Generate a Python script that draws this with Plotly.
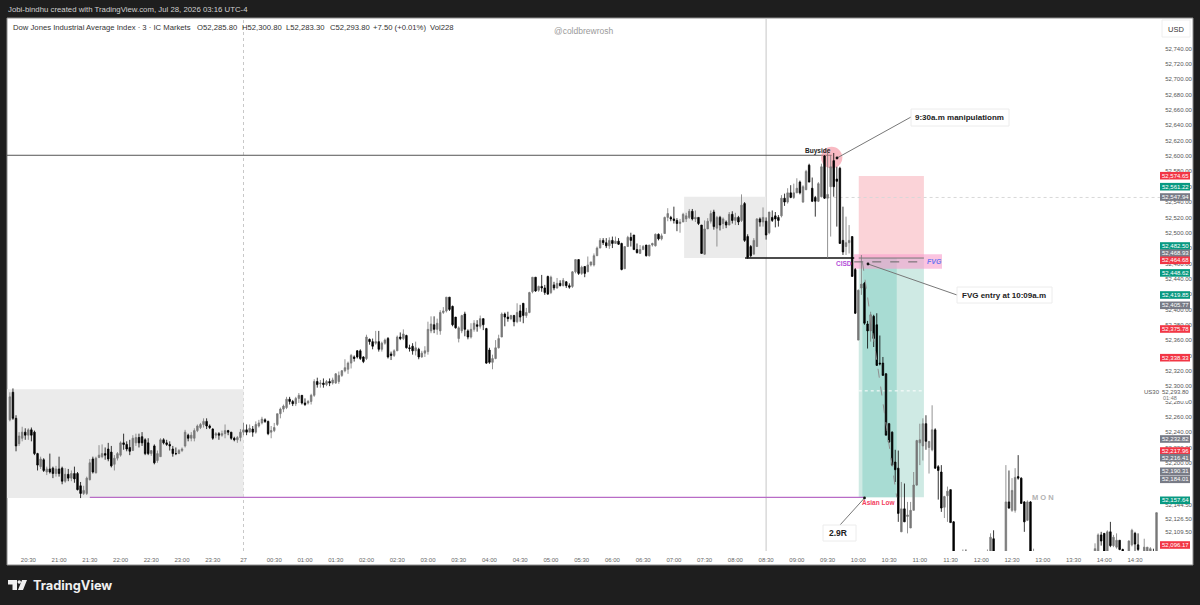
import plotly.graph_objects as go
import pandas as pd

# prices are stored as points above this level
price_base = 52000

opens = [256,292,258,225,232,240,236,243,240,212,
195,204,188,192,193,186,192,193,176,185,
180,186,186,170,160,160,178,205,187,207,
208,212,218,214,198,206,210,226,224,220,
216,226,233,234,230,226,212,222,203,208,
230,226,224,218,212,212,216,222,236,232,
232,242,246,250,254,248,244,236,238,236,
238,242,240,232,230,233,240,243,240,244,
240,248,252,256,254,240,242,250,264,270,
272,283,280,277,284,288,278,278,280,288,
306,303,304,302,306,304,304,306,314,320,
322,330,338,346,346,338,336,361,358,356,
358,348,356,362,342,340,346,364,362,366,
350,352,346,348,338,343,345,372,380,374,
372,396,398,416,404,390,362,372,394,372,
364,374,380,378,388,375,347,331,336,350,
364,394,390,388,392,384,398,408,392,396,
423,442,425,430,428,443,422,432,428,434,
431,436,431,430,449,465,447,456,449,458,
458,470,480,490,487,483,490,486,489,486,
453,482,494,497,478,473,478,484,470,484,
483,498,492,499,520,520,518,516,512,514,
518,520,528,518,520,510,472,505,515,527,
506,520,512,514,510,524,516,520,516,538,
495,482,472,482,518,514,515,500,520,522,
520,522,545,540,552,546,552,566,540,556,
588,558,546,541,547,600,545,560,594,570,
584,490,482,487,495,452,360,428,434,381,
372,391,380,330,330,316,251,240,201,193,
110,140,130,115,138,171,226,222,251,220,
217,243,195,188,142,157,165,123,70,72,
68,74,70,62,66,60,64,70,74,70,
101,70,62,68,70,149,138,138,182,180,
149,125,149,80,84,70,64,60,66,58,
52,60,56,54,62,58,64,70,66,72,
68,74,78,80,80,106,108,80,110,92,
90,99,87,80,76,93,108,93,82,84,
84,84,84,80]

highs = [292,297,262,240,247,245,245,246,242,213,
208,206,195,212,195,196,208,195,193,192,
190,195,188,175,170,182,205,208,208,223,
224,220,226,222,210,214,228,238,228,230,
236,238,238,240,232,232,216,224,216,232,
232,230,228,222,220,218,220,243,238,240,
245,250,252,258,258,250,245,240,240,242,
250,243,240,234,235,244,252,250,250,248,
254,256,260,258,255,248,252,264,272,276,
286,286,282,286,291,288,284,282,290,309,
311,308,310,308,310,311,317,319,321,335,
332,342,340,347,348,339,367,362,362,372,
372,358,362,364,345,348,366,370,374,367,
354,356,358,350,346,352,384,391,391,388,
399,403,416,416,405,390,378,393,397,374,
382,386,386,392,388,376,350,341,360,367,
396,396,397,393,393,408,406,408,402,423,
442,442,431,445,432,444,444,436,441,438,
441,437,434,450,465,465,457,456,469,462,
473,482,493,493,493,494,495,495,493,487,
482,496,500,497,486,484,484,484,484,487,
499,499,499,521,532,522,534,519,518,526,
526,531,531,529,520,510,516,519,529,530,
522,522,520,516,527,528,526,522,550,540,
498,484,493,519,520,533,520,527,529,527,
523,549,551,558,562,564,571,568,562,582,
590,572,548,566,590,601,604,601,604,586,
586,534,521,510,495,454,426,471,436,385,
397,393,395,366,338,317,252,241,217,216,
175,173,149,149,188,230,251,258,262,228,
275,245,197,197,157,169,165,124,78,80,
87,87,78,72,74,70,76,80,87,108,
112,78,74,80,197,190,180,193,210,181,
150,151,150,88,84,78,74,70,72,66,
64,68,64,66,70,68,74,78,76,80,
78,82,83,95,108,110,108,112,123,106,
108,99,88,84,99,114,110,108,84,101,
90,90,88,135]

lows = [254,256,215,222,228,230,230,228,210,190,
192,188,184,186,180,182,182,172,174,176,
176,174,164,154,158,158,177,186,186,206,
206,204,202,194,190,203,208,217,215,210,
216,222,220,222,210,210,209,198,200,208,
224,222,216,208,210,212,214,220,228,228,
228,240,244,246,244,244,230,232,230,234,
232,236,230,228,226,228,236,236,240,234,
238,246,250,252,236,232,240,248,258,266,
270,276,274,274,278,276,274,276,276,286,
298,298,298,300,300,302,303,303,312,318,
316,323,332,336,334,330,334,354,348,354,
345,345,354,336,334,338,346,360,360,349,
345,341,340,335,337,338,341,369,369,367,
367,394,396,398,378,375,357,369,365,361,
362,371,371,375,373,329,329,322,335,349,
364,378,384,386,378,382,384,382,389,395,
421,423,423,423,419,419,420,425,427,430,
430,428,427,428,447,445,445,442,449,456,
456,470,480,484,480,479,480,486,484,451,
453,482,482,478,473,473,478,469,469,482,
482,490,490,499,515,515,512,502,500,514,
514,518,516,514,510,473,471,505,512,504,
482,503,505,506,510,512,510,510,514,488,
466,468,472,482,508,508,491,498,514,507,
508,520,535,538,545,544,552,550,539,556,
566,540,521,540,546,544,467,495,547,508,
486,471,471,473,443,394,360,419,380,349,
358,351,327,327,314,236,226,196,175,123,
110,123,108,115,138,170,197,203,217,186,
215,192,152,136,128,123,122,80,60,62,
60,64,58,54,58,52,60,64,70,70,
68,58,56,62,68,140,136,135,178,147,
110,124,80,75,66,60,56,50,54,48,
46,52,48,50,54,50,58,62,60,64,
62,70,72,78,78,92,80,78,90,90,
88,86,78,72,74,91,84,85,76,80,
78,80,78,78]

closes = [286,258,222,235,240,236,243,236,212,197,
205,190,192,188,186,192,186,176,185,180,
186,179,165,160,164,180,200,188,206,210,
212,210,205,196,206,212,226,224,218,215,
232,233,226,226,212,212,216,200,212,230,
226,224,222,212,212,216,218,240,232,236,
242,248,250,254,248,246,232,238,236,238,
242,240,232,230,233,240,243,240,245,240,
250,252,257,254,238,242,246,264,270,274,
283,280,277,284,288,278,276,280,288,306,
302,304,302,306,304,308,316,314,320,324,
330,340,336,338,336,332,364,358,352,358,
348,356,360,338,340,346,364,362,368,350,
349,346,350,338,343,346,374,381,374,382,
396,398,416,400,380,376,376,392,374,364,
374,382,378,388,380,330,331,336,350,362,
394,390,388,392,384,396,390,392,396,422,
442,424,430,428,422,420,442,428,434,431,
438,431,429,449,465,447,455,447,458,462,
470,480,490,487,483,490,486,489,485,452,
482,494,490,478,474,478,482,470,484,486,
498,492,496,520,525,518,516,512,514,524,
522,528,518,520,512,473,505,515,525,508,
520,510,518,510,524,516,520,514,536,490,
468,470,490,518,514,520,497,527,516,518,
516,545,540,552,546,552,558,552,560,580,
566,541,541,564,586,545,550,586,560,567,
486,475,487,490,443,395,425,433,382,372,
393,362,327,329,314,236,227,197,191,134,
140,123,132,138,171,229,230,251,228,228,
243,193,190,141,156,163,122,80,72,68,
74,70,62,66,60,64,70,74,84,103,
70,62,68,70,149,141,164,181,180,147,
123,149,84,84,70,64,60,66,58,52,
60,56,54,62,58,64,70,66,72,68,
74,78,80,88,106,98,84,110,92,103,
99,87,80,76,98,112,94,87,78,90,
90,88,84,135]

time_labels = ["20:30","21:00","21:30","22:00","22:30","23:00","23:30","27",
"00:30","01:00","01:30","02:00","02:30","03:00","03:30","04:00","04:30","05:00",
"05:30","06:00","06:30","07:00","07:30","08:00","08:30","09:00","09:30","10:00",
"10:30","11:00","11:30","12:00","12:30","13:00","13:30","14:00","14:30"]

price_ticks = [52740,52720,52700,52680,52660,52640,52620,52600,52580,52560,52540,52520,
52500,52480,52460,52440,52420,52400,52380,52360,52340,52320,52300,52280,52260,52240,
52220,52200,52144.5,52126.5,52109.5]

# right hand labels, pushed apart like the platform does
tag_values = [52574.65,52561.22,52547.94,52482.50,52468.93,52464.68,52448.62,52419.85,52405.77,
52375.78,52338.33,52293.80,52232.82,52217.96,52216.41,52190.31,52184.01,52157.64,52096.17]
tag_colors = ["#f23645","#089981","#787b86","#089981","#787b86","#f23645","#089981","#089981","#787b86",
"#f23645","#f23645","#ffffff","#787b86","#f23645","#787b86","#787b86","#787b86","#089981","#f23645"]
tag_rows = [175.7,186.7,197,246,253.3,260.3,272.9,295,305.3,329,357.7,392,439,451,457.7,471.3,479.3,500.3,545]

legend_parts = ["Dow Jones Industrial Average Index · 3 · IC Markets","O52,285.80","H52,300.80",
"L52,283.30","C52,293.80","+7.50 (+0.01%)","Vol228"]
legend_cols = [12,196,241,285,329,372,429]

W, H = 1200, 605
L, R, T, B = 7, 1160, 18, 551

def px(x):
    return (x - L) / (R - L)

def py(y):
    return (B - y) / (B - T)

bar_times = pd.date_range("2026-07-26 20:12", periods=len(opens), freq="3min")
tick_times = pd.date_range("2026-07-26 20:30", periods=len(time_labels), freq="30min")

def up(values):
    return [price_base + v for v in values]

fig = go.Figure()
fig.add_trace(go.Candlestick(
    x=bar_times, open=up(opens), high=up(highs), low=up(lows), close=up(closes),
    increasing=dict(line=dict(color="#787878", width=0.8), fillcolor="#787878"),
    decreasing=dict(line=dict(color="#000000", width=0.8), fillcolor="#000000"),
    whiskerwidth=0, showlegend=False, hoverinfo="skip"))

def box(x0, x1, y0, y1, color, layer="below"):
    fig.add_shape(type="rect", x0=x0, x1=x1, y0=y0, y1=y1, fillcolor=color,
                  line_width=0, layer=layer)

def seg(x0, x1, y0, y1, color, width=1, dash="solid", layer="below"):
    fig.add_shape(type="line", x0=x0, x1=x1, y0=y0, y1=y1,
                  line=dict(color=color, width=width, dash=dash), layer=layer)

def page_box(x0, x1, y0, y1, fill, line=None, layer="below"):
    fig.add_shape(type="rect", xref="paper", yref="paper", x0=px(x0), x1=px(x1), y0=py(y0), y1=py(y1),
                  fillcolor=fill, line=dict(color=line or fill, width=1 if line else 0), layer=layer)

def page_line(x0, y0, x1, y1, color="#787878", width=1):
    fig.add_shape(type="line", xref="paper", yref="paper", x0=px(x0), x1=px(x1), y0=py(y0), y1=py(y1),
                  line=dict(color=color, width=width), layer="above")

def page_dot(x, y, r=1.4):
    fig.add_shape(type="circle", xref="paper", yref="paper", x0=px(x-r), x1=px(x+r), y0=py(y+r), y1=py(y-r),
                  fillcolor="#111111", line_width=0, layer="above")

def label(x, y, text, size=7, color="#333333", anchor="left", font="Liberation Sans"):
    fig.add_annotation(xref="paper", yref="paper", x=px(x), y=py(y), text=text, showarrow=False,
                       xanchor=anchor, yanchor="middle", borderpad=0,
                       font=dict(family=font, size=size, color=color))

left_edge = "2026-07-26 20:09:12"
right_edge = "2026-07-27 14:54:24"

# page panel
page_box(7, 1193, 18, 565, "#ffffff", "#8c8c8c")

# session boxes
box(left_edge, "2026-07-27 00:00", 52296, 52154, "#ebebeb")
box("2026-07-27 07:10", "2026-07-27 08:30", 52547, 52467, "#ebebeb")

# position tool
box("2026-07-27 10:00:24", "2026-07-27 11:04", 52574, 52467, "#fbd3d8")
box("2026-07-27 10:00:24", "2026-07-27 11:04", 52467, 52155, "#cfeae4")
box("2026-07-27 10:04", "2026-07-27 10:37:30", 52467, 52155, "#a8dcd3")
box("2026-07-27 09:55:48", "2026-07-27 11:21:40", 52472, 52453, "rgba(249,160,205,0.62)")

# levels
seg(left_edge, "2026-07-27 09:34", 52601, 52601, "#555555")
seg("2026-07-26 21:30", "2026-07-27 10:05", 52155, 52155, "#b86cc6", 1.2)
seg("2026-07-27 08:09:30", "2026-07-27 09:56", 52467, 52467, "#111111", 1.4)
seg("2026-07-27 10:00:24", "2026-07-27 11:04", 52467, 52467, "#777777")
fig.add_shape(type="line", x0="2026-07-27 00:00", x1="2026-07-27 00:00", yref="paper", y0=0, y1=1,
              line=dict(color="#c8c8c8", width=1, dash="dot"), layer="below")
fig.add_shape(type="line", x0="2026-07-27 08:30", x1="2026-07-27 08:30", yref="paper", y0=0, y1=1,
              line=dict(color="#c6c6c6", width=1), layer="below")
seg("2026-07-27 09:30", right_edge, 52546, 52546, "#d8d8d8", 1, "dot")
seg("2026-07-27 10:00:24", "2026-07-27 11:04", 52293.8, 52293.8, "#ffffff", 1, "dot")

# sweep circle
fig.add_shape(type="circle", x0="2026-07-27 09:23:36", x1="2026-07-27 09:44:24", y0=52584, y1=52612,
              fillcolor="rgba(244,130,145,0.55)", line_width=0, layer="below")

# fvg midline and trade path sit over the candles
seg("2026-07-27 09:56", "2026-07-27 11:03", 52462, 52462, "#666666", 1, "dash", "above")
seg("2026-07-27 10:04", "2026-07-27 10:37:30", 52462, 52155, "#8f8f8f", 1, "dash", "above")

# callouts
page_line(837, 158, 911, 117)
page_dot(837, 158)
page_line(868, 264, 957, 295)
page_dot(868, 264)
page_line(864.5, 498, 840, 525)
page_dot(864.5, 498)
page_box(911, 1009, 109, 126, "#ffffff", "#ececec", "above")
page_box(957, 1052, 287, 303, "#ffffff", "#ececec", "above")
page_box(823, 856, 525, 541, "#ffffff", "#ececec", "above")
label(960, 117.5, "<b>9:30a.m manipulationm</b>", 8, "#222222", "center")
label(1004.5, 295, "<b>FVG entry at 10:09a.m</b>", 8, "#222222", "center")
label(837.5, 533, "<b>2.9R</b>", 8.5, "#222222", "center")
label(818, 150.5, "<b>Buyside</b>", 6.5, "#222222", "center")
label(844, 263, "<b>CISD</b>", 6.5, "#b44fd8", "center")
label(934, 261.5, "<b><i>FVG</i></b>", 7, "#6f78f0", "center")
label(878, 502.5, "<b>Asian Low</b>", 6.5, "#f23d5c", "center")
label(1043, 497, "<b>M O N</b>", 7.5, "#b2b2b2", "center")
label(583, 31, "@coldbrewrosh", 8.5, "#9a9a9a", "center")

# price tags
for value, color, row in zip(tag_values, tag_colors, tag_rows):
    page_box(1160, 1190, row - 3.8, row + 3.8, color, layer="above")
    ink = "#555555" if color == "#ffffff" else "#ffffff"
    label(1175, row, f"{value:,.2f}", 6, ink, "center")
page_box(1162, 1188, 395, 401, "#ffffff", layer="above")
label(1170, 397.7, "01:48", 5.5, "#777777", "center")
label(1151.5, 392.5, "US30", 6, "#555555", "center")

# usd button
page_box(1162, 1190, 20, 37, "#ffffff", "#eeeeee", "above")
label(1176, 29, "USD", 7.5, "#333333", "center")

# header, legend
label(7, 9.5, "Jobi-bindhu created with TradingView.com, Jul 28, 2026 03:16 UTC-4", 7.8, "#d0d0d0")
for text, col in zip(legend_parts, legend_cols):
    label(col, 27.5, text, 7.7, "#333333")

# footer logo
fig.add_shape(type="path", xref="paper", yref="paper", fillcolor="#f0f0f0", line_width=0, layer="above",
              path=f"M {px(8)} {py(580)} L {px(17)} {py(580)} L {px(17)} {py(590)} L {px(12.5)} {py(590)} "
                   f"L {px(12.5)} {py(584.5)} L {px(8)} {py(584.5)} Z")
fig.add_shape(type="path", xref="paper", yref="paper", fillcolor="#f0f0f0", line_width=0, layer="above",
              path=f"M {px(22)} {py(580)} L {px(27)} {py(580)} L {px(23)} {py(590)} L {px(18)} {py(590)} Z")
fig.add_shape(type="circle", xref="paper", yref="paper", fillcolor="#f0f0f0", line_width=0, layer="above",
              x0=px(17.5), x1=px(21), y0=py(583.8), y1=py(580.2))
label(32, 585, "<b>TradingView</b>", 12.8, "#f0f0f0", font="Inter")

fig.update_layout(
    width=W, height=H, paper_bgcolor="#1e1e1e", plot_bgcolor="rgba(0,0,0,0)",
    margin=dict(l=L, r=W - R, t=T, b=H - B, autoexpand=False), showlegend=False,
    xaxis=dict(type="date", range=[left_edge, right_edge], rangeslider=dict(visible=False),
               tickvals=tick_times, ticktext=time_labels, tickangle=0, showgrid=False, zeroline=False,
               showline=False, ticks="outside", ticklen=3, tickcolor="rgba(0,0,0,0)",
               tickfont=dict(family="Liberation Sans", size=6, color="#666666")),
    yaxis=dict(side="right", range=[52085, 52780], tickvals=price_ticks,
               ticktext=[f"{v:,.2f}" for v in price_ticks], showgrid=False, zeroline=False,
               showline=False, ticks="outside", ticklen=3, tickcolor="rgba(0,0,0,0)",
               tickfont=dict(family="Liberation Sans", size=6, color="#555555")),
)

# the page's default body margin would push the figure off the 1200x605 window
fig.write_html("out.html", config=dict(displayModeBar=False),
               post_script="document.body.style.margin='0';")
